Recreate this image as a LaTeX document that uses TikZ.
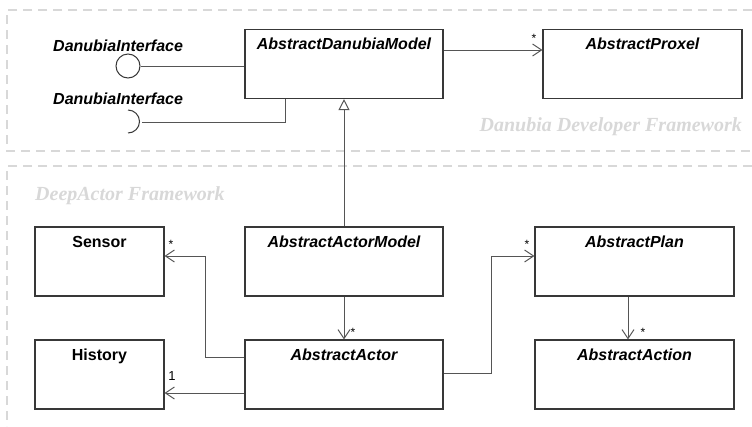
\documentclass[tikz,border=0pt]{standalone}
\usepackage{fontspec}
\setmainfont{Liberation Sans}
\newfontfamily\serifbi{Liberation Serif}
\usetikzlibrary{arrows.meta,calc}
\definecolor{boxline}{HTML}{383838}
\definecolor{conn}{HTML}{555555}
\definecolor{frame}{HTML}{D8D8D8}
\begin{document}
\begin{tikzpicture}[x=1pt,y=-1pt,
  cls/.style={draw=boxline,line width=1.1pt,minimum width=198pt,minimum height=69pt,inner sep=0pt},
  smallcls/.style={cls,minimum width=129pt},
  title/.style={font=\fontsize{16}{18}\selectfont\bfseries\itshape,anchor=base,inner sep=0pt},
  ctitle/.style={font=\fontsize{16}{18}\selectfont\bfseries,anchor=base,inner sep=0pt},
  fw/.style={font=\serifbi\fontsize{20}{22}\selectfont\bfseries\itshape,text=frame,inner sep=0pt},
  fwline/.style={draw=frame,line width=1.4pt,dash pattern=on 9pt off 6pt},
  assoc/.style={draw=conn,line width=1pt,-{Straight Barb[length=9pt,width=12pt,line width=1pt]}},
  plain/.style={draw=conn,line width=1pt},
  mult/.style={font=\fontsize{12}{12}\selectfont,inner sep=0pt},
  multone/.style={font=\fontsize{13}{14}\selectfont,inner sep=0pt}
]
\useasboundingbox (0,0) rectangle (752,426);
% frames
\draw[fwline] (752,10) -- (7,10) -- (7,151) -- (752,151);
\draw[fwline] (752,166) -- (7,166) -- (7,426);
\node[fw,anchor=base east] (fwdan) at (742,131) {Danubia Developer Framework};
\node[fw,anchor=base west] (fwdeep) at (35,200) {DeepActor Framework};
% classes
\node[cls] (adm) at (344,64) {};
\node[title] (admt) at ($(adm.north)+(0,21)$) {AbstractDanubiaModel};
\node[cls,minimum width=199pt] (proxel) at (642.5,64) {};
\node[title] (proxelt) at ($(proxel.north)+(0,21)$) {AbstractProxel};
\node[smallcls] (sensor) at (99.5,261.5) {};
\node[ctitle] (sensort) at ($(sensor.north)+(0,21)$) {Sensor};
\node[smallcls] (history) at (99.5,374.5) {};
\node[ctitle] (historyt) at ($(history.north)+(0,21)$) {History};
\node[cls] (aam) at (344,261.5) {};
\node[title] (aamt) at ($(aam.north)+(0,21)$) {AbstractActorModel};
\node[cls] (aa) at (344,374.5) {};
\node[title] (aat) at ($(aa.north)+(0,21)$) {AbstractActor};
\node[cls,minimum width=199pt] (plan) at (634.5,261.5) {};
\node[title] (plant) at ($(plan.north)+(0,21)$) {AbstractPlan};
\node[cls,minimum width=199pt] (action) at (634.5,374.5) {};
\node[title] (actiont) at ($(action.north)+(0,21)$) {AbstractAction};
% interfaces
\node[title,anchor=base west] (if1t) at (53,51) {DanubiaInterface};
\node[title,anchor=base west] (if2t) at (53,104) {DanubiaInterface};
\node[draw=boxline,line width=1pt,circle,minimum size=24pt,inner sep=0pt] (if1) at (128,66) {};
\draw[plain] (if1.east) -- (adm.west |- if1.east);
\coordinate (sock) at (142,122);
\draw[draw=boxline,line width=1pt] (128,110) arc[start angle=90,end angle=-90,radius=11.5pt];
\draw[plain] (sock) -- (285,122) -- (285,98.5);
% associations
\draw[assoc] (adm.east |- 0,50) -- (proxel.west |- 0,50);
\node[mult] (m1) at (534,38) {*};
\draw[draw=conn,line width=1pt,-{Triangle[open,length=11pt,width=11pt,line width=1pt,fill=white]}] (aam.north) -- (adm.south);
\draw[assoc] (aam.south) -- (aa.north);
\node[mult] (m2) at (353,332) {*};
\draw[assoc] (aa.west |- 0,357) -- (205,357) -- (205,256) -- (sensor.east |- 0,256);
\node[mult] (m3) at (171,244) {*};
\draw[assoc] (aa.west |- 0,393) -- (history.east |- 0,393);
\node[multone] (m4) at (172,376) {1};
\draw[assoc] (aa.east |- 0,373) -- (491,373) -- (491,256) -- (plan.west |- 0,256);
\node[mult] (m5) at (527,244) {*};
\draw[assoc] (plan.south -| 628,0) -- (action.north -| 628,0);
\node[mult] (m6) at (643,332) {*};
\end{tikzpicture}
\end{document}
